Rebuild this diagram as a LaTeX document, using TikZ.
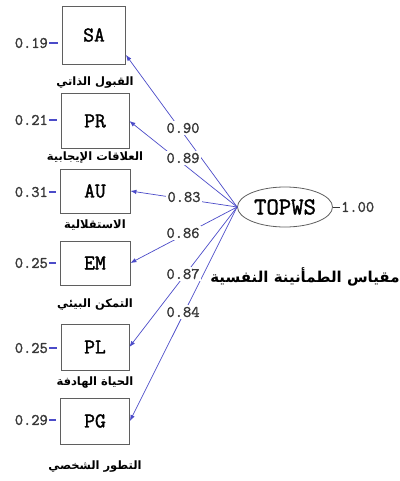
\documentclass[tikz,border=0pt]{standalone}
\usepackage{fontspec}
\newfontfamily\arabicfont[Script=Arabic]{DejaVu Sans}
\newfontfamily\monof[FakeBold=1.6]{Latin Modern Mono}
\TeXXeTstate=1
\usetikzlibrary{arrows.meta,shapes.geometric}
\definecolor{pathblue}{RGB}{75,75,200}
\definecolor{numgray}{RGB}{55,55,55}
\definecolor{boxgray}{RGB}{95,95,95}
\begin{document}
\begin{tikzpicture}[x=1pt,y=-1pt,
  obs/.style={draw=boxgray, line width=0.8pt, fill=white, inner sep=0pt,
    font=\monof\fontsize{21}{21}\selectfont},
  lat/.style={draw=boxgray, line width=0.8pt, ellipse, fill=white, inner sep=0pt,
    minimum width=95pt, minimum height=40pt,
    font=\monof\fontsize{24}{24}\selectfont},
  num/.style={text=numgray, inner sep=1pt, font=\monof\fontsize{16}{16}\selectfont},
  load/.style={num, fill=white, inner sep=1.5pt},
  arlab/.style={inner sep=0pt, font=\arabicfont\bfseries\fontsize{11.5}{13}\selectfont},
  loadarrow/.style={draw=pathblue, line width=0.7pt, -{Latex[length=6pt,width=4.5pt]}},
  errline/.style={draw=pathblue, line width=1.6pt},
]
\useasboundingbox (0,0) rectangle (399,481);
% observed variables
\node[obs, minimum width=63pt, minimum height=58pt] (SA) at (94,35) {SA};
\node[obs, minimum width=68pt, minimum height=55pt] (PR) at (95,121) {PR};
\node[obs, minimum width=70pt, minimum height=44pt] (AU) at (95,191) {AU};
\node[obs, minimum width=70pt, minimum height=44pt] (EM) at (95,263) {EM};
\node[obs, minimum width=68pt, minimum height=46pt] (PL) at (95,347) {PL};
\node[obs, minimum width=69pt, minimum height=46pt] (PG) at (95,421) {PG};
% latent
\node[lat] (T) at (285,207) {TOPWS};
% error variances
\node[num, anchor=east] (e1) at (49,43) {0.19};
\node[num, anchor=east] (e2) at (49,120) {0.21};
\node[num, anchor=east] (e3) at (49,192) {0.31};
\node[num, anchor=east] (e4) at (49,263) {0.25};
\node[num, anchor=east] (e5) at (49,348) {0.25};
\node[num, anchor=east] (e6) at (49,420) {0.29};
\draw[errline, shorten >=4pt] (e1.east) -- (e1.east -| SA.west);
\draw[errline, shorten >=4pt] (e2.east) -- (e2.east -| PR.west);
\draw[errline, shorten >=4pt] (e3.east) -- (e3.east -| AU.west);
\draw[errline, shorten >=4pt] (e4.east) -- (e4.east -| EM.west);
\draw[errline, shorten >=4pt] (e5.east) -- (e5.east -| PL.west);
\draw[errline, shorten >=4pt] (e6.east) -- (e6.east -| PG.west);
\node[num, anchor=west] (e7) at (340,207) {1.00};
\draw[draw=numgray, line width=0.8pt] (T.east) -- (e7.west);
% paths
\draw[loadarrow] (T.west) -- (SA.-32);
\draw[loadarrow] (T.west) -- (PR.east);
\draw[loadarrow] (T.west) -- (AU.east);
\draw[loadarrow] (T.west) -- (EM.east);
\draw[loadarrow] (T.west) -- (PL.east);
\draw[loadarrow] (T.west) -- (PG.east);
% loadings
\node[load] (l1) at (183,128) {0.90};
\node[load] (l2) at (183,158) {0.89};
\node[load] (l3) at (184,197) {0.83};
\node[load] (l4) at (183,233) {0.86};
\node[load] (l5) at (183,274) {0.87};
\node[load] (l6) at (183,312) {0.84};
% arabic labels
\node[arlab] (a1) at (95,83) {\beginR القبول الذاتي\endR};
\node[arlab] (a2) at (95,158) {\beginR العلاقات الإيجابية\endR};
\node[arlab] (a3) at (95,225) {\beginR الاستقلالية\endR};
\node[arlab] (a4) at (95,305) {\beginR التمكن البيئي\endR};
\node[arlab] (a5) at (95,383) {\beginR الحياة الهادفة\endR};
\node[arlab] (a6) at (95,467) {\beginR التطور الشخصي\endR};
\node[inner sep=0pt, font=\arabicfont\bfseries\fontsize{15}{18}\selectfont] (title) at (305,277) {\beginR مقياس الطمأنينة النفسية\endR};
\end{tikzpicture}
\end{document}
